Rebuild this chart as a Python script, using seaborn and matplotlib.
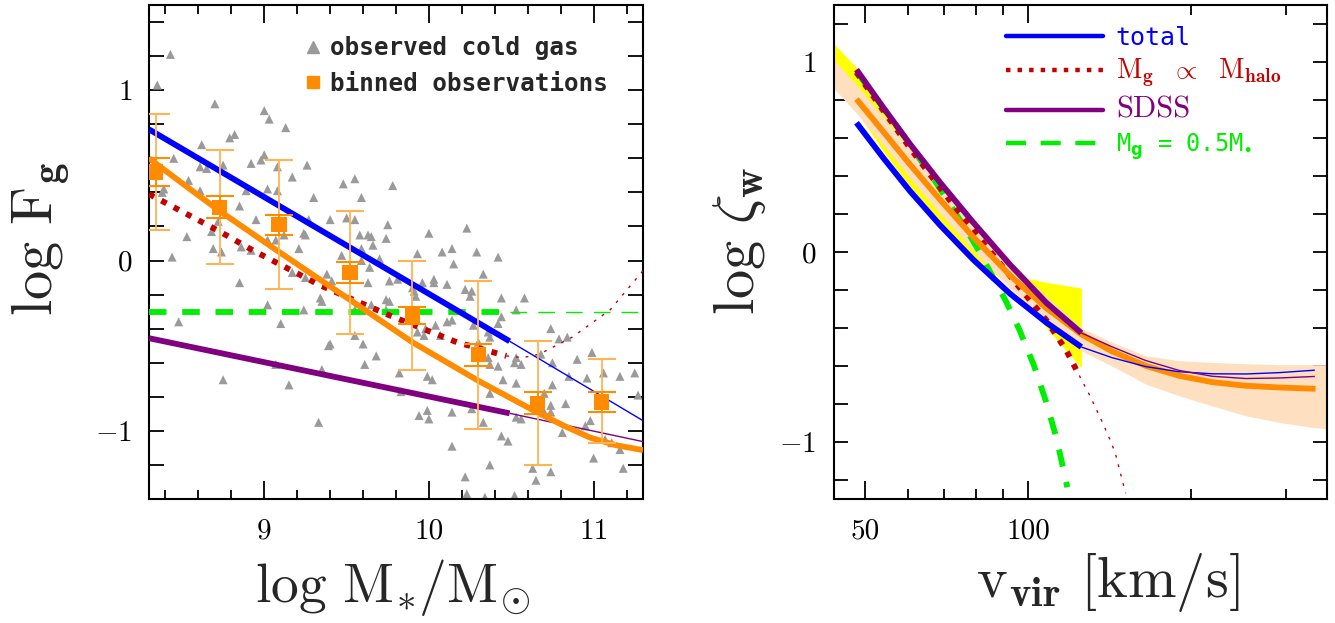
import numpy as np
import pandas as pd
import matplotlib
matplotlib.use("Agg")
import matplotlib.pyplot as plt
import seaborn as sns
from matplotlib.lines import Line2D
from matplotlib.ticker import FixedLocator, MultipleLocator, NullFormatter

# ---------------- left panel data ----------------
obs_logm = [8.43, 8.35, 8.70, 9.00, 9.03, 9.13, 8.82, 8.79, 8.62, 8.45, 8.75, 8.92, 8.61, 8.65,
            9.26, 8.98, 9.00, 9.17, 8.54, 8.38, 8.61, 9.02, 9.08, 9.08, 8.89, 9.48, 9.55, 9.78,
            9.30, 9.59, 8.85, 8.72, 8.95, 9.12, 9.40, 9.50, 9.55, 9.75, 9.27, 9.24, 9.25, 9.58,
            9.63, 9.65, 9.66, 9.74, 10.00, 10.23, 10.14, 10.08, 10.29, 9.93, 9.21, 8.68, 8.53,
            8.69, 8.74, 9.02, 9.07, 8.92, 8.86, 8.44, 10.42, 9.47, 9.59, 9.70, 8.39,
            10.15, 9.64, 9.59, 9.63, 9.76, 9.81, 10.03, 10.03, 10.11, 9.96, 9.91, 9.92, 9.90,
            8.85, 9.17, 9.25, 9.41, 9.38, 9.02, 9.34, 9.35, 9.74, 9.76, 9.65, 9.74, 8.48, 9.10,
            9.24, 9.55, 10.22, 10.26, 10.25, 10.44, 10.58, 10.33, 10.53, 10.44, 10.14, 10.11,
            9.92, 10.04, 9.98, 9.93, 10.42, 10.27, 10.36, 10.07, 10.30, 10.37, 10.74, 10.79,
            10.84, 10.90, 10.68, 10.75, 10.99, 10.85, 10.96, 11.06, 10.75, 11.16, 11.25, 11.27,
            10.56, 10.53, 10.52, 10.53, 10.45, 10.36, 10.42, 10.37, 9.40, 9.39, 9.55, 9.60,
            9.68, 9.61, 9.35, 9.15, 8.75, 9.07, 9.82, 9.83, 9.99, 10.02, 9.97, 9.99, 10.00,
            9.94, 10.14, 10.26, 10.33, 10.37, 10.53, 10.56, 10.69, 10.70, 10.74, 10.74, 10.81,
            10.83, 10.95, 10.98, 11.00, 11.16, 11.11, 11.07, 11.18, 10.44, 10.48, 10.14, 10.37,
            10.22, 10.63, 10.65, 10.74, 9.33, 10.23, 10.34, 10.52]
obs_logf = [1.21, 1.03, 0.92, 0.88, 0.83, 0.78, 0.74, 0.72, 0.68, 0.60, 0.56, 0.57, 0.55, 0.54,
            0.56, 0.59, 0.62, 0.49, 0.47, 0.40, 0.41, 0.42, 0.41, 0.55, 0.41, 0.45, 0.48, 0.44,
            0.37, 0.37, 0.32, 0.23, 0.24, 0.15, 0.24, 0.25, 0.24, 0.21, 0.24, 0.16, 0.15, 0.15,
            0.15, 0.14, 0.09, 0.13, 0.16, 0.19, 0.07, 0.05, 0.05, 0.04, 0.07, 0.17, 0.14,
            0.07, 0.05, 0.12, 0.12, 0.06, 0.08, 0.02, 0.02, 0.03, 0.07, 0.01, 0.42,
            -0.02, -0.04, 0.00, -0.13, -0.12, -0.11, -0.11, -0.13, -0.14, -0.13, -0.18, -0.21, -0.16,
            -0.13, -0.07, -0.10, -0.12, -0.08, -0.26, -0.22, -0.24, -0.23, -0.24, -0.26, -0.29, -0.36, -0.37,
            -0.29, -0.29, -0.17, -0.18, -0.21, -0.22, -0.22, -0.08, -0.29, -0.33, -0.35, -0.36,
            -0.34, -0.38, -0.40, -0.42, -0.37, -0.38, -0.42, -0.44, -0.48, -0.45, -0.40, -0.46,
            -0.45, -0.58, -0.55, -0.60, -0.54, -0.68, -0.69, -0.66, -0.73, -0.68, -0.66, -0.79,
            -0.61, -0.57, -0.60, -0.72, -0.70, -0.57, -0.62, -0.61, -0.49, -0.50, -0.44, -0.49,
            -0.56, -0.61, -0.64, -0.73, -0.70, -0.61, -0.66, -0.77, -0.68, -0.70, -0.44, -0.88, -0.93,
            -0.91, -0.89, -0.87, -0.95, -0.78, -0.92, -0.93, -0.87, -0.78, -0.85, -0.89, -1.01,
            -0.84, -0.97, -0.94, -1.16, -1.11, -1.07, -1.05, -1.22, -1.03, -1.06, -1.09, -1.20,
            -1.27, -1.22, -1.29, -1.24, -0.95, -1.37, -1.39, -1.38]

bin_logm = [8.34, 8.73, 9.09, 9.52, 9.90, 10.30, 10.66, 11.05]
bin_logf = [0.52, 0.31, 0.21, -0.07, -0.32, -0.55, -0.84, -0.83]
bin_outer_lo = [0.18, -0.02, -0.17, -0.43, -0.64, -0.99, -1.20, -1.07]
bin_outer_hi = [0.86, 0.65, 0.59, 0.29, 0.00, -0.12, -0.47, -0.58]
bin_inner_lo = [0.44, 0.25, 0.15, -0.13, -0.37, -0.62, -0.90, -0.89]
bin_inner_hi = [0.60, 0.38, 0.27, -0.01, -0.27, -0.49, -0.77, -0.77]

blue_m_thick, blue_f_thick = [8.30, 10.49], [0.77, -0.474]
blue_m_thin, blue_f_thin = [10.49, 11.30], [-0.474, -0.94]
purple_m_thick, purple_f_thick = [8.30, 10.49], [-0.456, -0.897]
purple_m_thin, purple_f_thin = [10.49, 11.30], [-0.897, -1.063]
orange_m = [8.30, 8.52, 8.73, 9.06, 9.51, 9.90, 10.30, 10.66, 10.82, 10.98, 11.14, 11.30]
orange_f = [0.60, 0.44, 0.29, 0.07, -0.224, -0.48, -0.706, -0.893, -0.97, -1.04, -1.085, -1.113]
red_m_thick = [8.30, 8.73, 8.93, 9.34, 9.78, 10.17, 10.47]
red_f_thick = [0.39, 0.17, 0.06, -0.146, -0.33, -0.48, -0.56]
red_m_thin = [10.47, 10.57, 10.67, 10.87, 11.10, 11.30]
red_f_thin = [-0.56, -0.57, -0.55, -0.45, -0.29, -0.06]
green_m_thick, green_f_thick = [8.30, 10.49], [-0.30, -0.30]
green_m_thin, green_f_thin = [10.49, 11.30], [-0.30, -0.30]

left_xticks = [9, 10, 11]
left_xticklabels = ["9", "10", "11"]
yticks = [-1, 0, 1]
yticklabels = [r"$-1$", r"$0$", r"$1$"]

# ---------------- right panel data ----------------
v_thick = [48.2, 54.0, 60.5, 68.7, 79.2, 92.6, 108.2, 125.5]
blue_z_thick = [0.680, 0.496, 0.321, 0.143, -0.040, -0.219, -0.372, -0.500]
purple_z_thick = [0.960, 0.761, 0.569, 0.368, 0.156, -0.066, -0.268, -0.426]
v_thin = [125.5, 143, 165, 190, 219, 253, 291, 339]
blue_z_thin = [-0.500, -0.556, -0.603, -0.630, -0.641, -0.642, -0.635, -0.622]
purple_z_thin = [-0.426, -0.499, -0.571, -0.623, -0.654, -0.666, -0.663, -0.655]
orange_v = [48.2, 54.0, 60.5, 68.7, 79.2, 92.6, 108.2, 125.5, 143, 165, 190, 219, 253, 291, 340]
orange_z = [0.805, 0.634, 0.461, 0.277, 0.079, -0.122, -0.296, -0.433, -0.523, -0.599,
            -0.651, -0.685, -0.704, -0.713, -0.720]
red_v_thick = [48.2, 54.0, 60.5, 68.7, 79.2, 92.6, 108.2, 117.8, 124.4]
red_z_thick = [0.945, 0.745, 0.548, 0.340, 0.115, -0.125, -0.360, -0.520, -0.650]
red_v_thin = [124.4, 129.8, 135.4, 140.2, 144.9, 151.5]
red_z_thin = [-0.650, -0.750, -0.860, -0.955, -1.055, -1.270]
green_v = [48.2, 58.8, 67.2, 77.0, 81.2, 91.0, 96.5, 102.5, 108.0, 113.0, 118.2]
green_z = [0.950, 0.615, 0.377, 0.115, 0.004, -0.258, -0.412, -0.595, -0.788, -0.984, -1.238]
peach_v = [43.8, 48.2, 54, 60.5, 68.7, 79.2, 92.6, 108.2, 125.5, 143, 165, 190, 219, 253, 291, 340, 357]
peach_hi = [1.01, 0.88, 0.71, 0.54, 0.35, 0.155, -0.055, -0.235, -0.400, -0.475, -0.546, -0.572,
            -0.581, -0.588, -0.593, -0.593, -0.593]
peach_lo = [0.86, 0.73, 0.565, 0.39, 0.205, 0.01, -0.19, -0.36, -0.52, -0.60, -0.695, -0.756,
            -0.81, -0.862, -0.897, -0.925, -0.93]
yellow_v = [43.8, 48.2, 54, 60.5, 68.7, 79.2, 92.6, 96.5, 108.2, 125.5]
yellow_hi = [1.095, 0.97, 0.77, 0.58, 0.38, 0.17, -0.05, -0.13, -0.16, -0.19]
yellow_lo = [0.90, 0.74, 0.53, 0.345, 0.165, -0.02, -0.18, -0.235, -0.40, -0.61]

right_major = [50, 100]
right_major_labels = ["50", "100"]
right_minor = [60, 70, 80, 90, 200, 300]

# ---------------- style ----------------
sns.set_theme(style="ticks")
plt.rcParams["font.family"] = ["cmr10", "DejaVu Serif"]
plt.rcParams["mathtext.fontset"] = "cm"
plt.rcParams["axes.formatter.use_mathtext"] = True
plt.rcParams["axes.unicode_minus"] = False
plt.rcParams["axes.linewidth"] = 1.5
plt.rcParams["axes.edgecolor"] = "black"

BLUE, ORANGE, PURPLE = "#0000FF", "#FF8C00", "#800080"
RED, GREEN, GRAY = "#C40000", "#00EE00", "#9A9A9A"
PEACH, YELLOW, LIGHTOR = "#FEE0C0", "#FFFF00", "#FFB454"

fig = plt.figure(figsize=(13.35, 6.23), dpi=100)
axL = fig.add_axes([149 / 1335, 124 / 623, 494 / 1335, 494 / 623])
axR = fig.add_axes([834 / 1335, 124 / 623, 493 / 1335, 494 / 623])

THICK, THIN = 4.2, 1.0
dot_thick = (0, (1.0, 1.4))
dash_thick = (0, (3.0, 2.7))


def line(ax, x, y, color, lw, ls="-", z=3):
    sns.lineplot(x=x, y=y, ax=ax, color=color, lw=lw, linestyle=ls, sort=False,
                 errorbar=None, zorder=z, solid_capstyle="butt", dash_capstyle="butt")


# ---- left panel ----
sns.scatterplot(x=obs_logm, y=obs_logf, ax=axL, marker="^", s=42, color=GRAY,
                edgecolor="none", linewidth=0, zorder=2)
line(axL, green_m_thick, green_f_thick, GREEN, THICK, dash_thick)
line(axL, green_m_thin, green_f_thin, GREEN, THIN, (0, (12, 8)))
line(axL, purple_m_thick, purple_f_thick, PURPLE, THICK)
line(axL, purple_m_thin, purple_f_thin, PURPLE, THIN)
line(axL, red_m_thick, red_f_thick, RED, THICK, dot_thick)
line(axL, red_m_thin, red_f_thin, RED, THIN, (0, (2, 5)))
line(axL, orange_m, orange_f, ORANGE, THICK)
line(axL, blue_m_thick, blue_f_thick, BLUE, THICK)
line(axL, blue_m_thin, blue_f_thin, BLUE, THIN)

bm = np.array(bin_logm)
bf = np.array(bin_logf)
axL.errorbar(bm, bf, yerr=[bf - np.array(bin_outer_lo), np.array(bin_outer_hi) - bf],
             fmt="none", ecolor=LIGHTOR, elinewidth=1.3, capsize=10, capthick=1.5, zorder=4)
axL.errorbar(bm, bf, yerr=[bf - np.array(bin_inner_lo), np.array(bin_inner_hi) - bf],
             fmt="none", ecolor=ORANGE, elinewidth=1.3, capsize=10, capthick=1.5, zorder=4)
sns.scatterplot(x=bin_logm, y=bin_logf, ax=axL, marker="s", s=120, color=ORANGE,
                edgecolor="none", linewidth=0, zorder=5)

axL.set_xlim(8.3, 11.3)
axL.set_ylim(-1.4, 1.5)
axL.set_xticks(left_xticks, left_xticklabels)
axL.xaxis.set_minor_locator(MultipleLocator(0.2))
axL.set_yticks(yticks, yticklabels)
axL.yaxis.set_minor_locator(MultipleLocator(0.2))
axL.tick_params(which="both", direction="in", top=True, right=True, width=1.3,
                labelsize=21, colors="black")
axL.tick_params(axis="x", which="major", length=13, pad=14)
axL.tick_params(axis="x", which="minor", length=6.5)
axL.tick_params(axis="y", which="both", length=11, pad=12)
axL.set_xlabel(r"$\mathrm{log\ M_{\!*}\!/M_{\!\odot}}$", fontsize=40)
axL.xaxis.set_label_coords(0.494, -0.118)
axL.set_ylabel(r"$\mathrm{log\ F}_{\mathbf{g}}$", fontsize=42)
axL.yaxis.set_label_coords(-0.156, 0.527)

hL = [Line2D([], [], marker="^", ls="none", color=GRAY, ms=8.5),
      Line2D([], [], marker="s", ls="none", color=ORANGE, ms=9)]
legL = axL.legend(hL, ["observed cold gas", "binned observations"], loc="upper left",
                  bbox_to_anchor=(0.313, 0.937), frameon=False, handlelength=0.8,
                  handletextpad=0.3, labelspacing=0.48, borderpad=0, borderaxespad=0,
                  prop={"family": "DejaVu Sans Mono", "weight": "bold", "size": 17.5})

# ---- right panel ----
axR.set_xscale("log")
axR.fill_between(yellow_v, yellow_lo, yellow_hi, color=YELLOW, lw=0, zorder=1)
axR.fill_between(peach_v, peach_lo, peach_hi, color=PEACH, lw=0, zorder=1.5)
line(axR, green_v, green_z, GREEN, THICK, dash_thick)
line(axR, red_v_thick, red_z_thick, RED, THICK, dot_thick)
line(axR, red_v_thin, red_z_thin, RED, THIN, (0, (2, 5)))
line(axR, orange_v, orange_z, ORANGE, THICK)
line(axR, v_thin, blue_z_thin, BLUE, THIN)
line(axR, v_thin, purple_z_thin, PURPLE, THIN)
line(axR, v_thick, blue_z_thick, BLUE, THICK)
line(axR, v_thick, purple_z_thick, PURPLE, THICK)

axR.set_xlim(43.8, 357)
axR.set_ylim(-1.3, 1.3)
axR.xaxis.set_major_locator(FixedLocator(right_major))
axR.set_xticklabels(right_major_labels)
axR.xaxis.set_minor_locator(FixedLocator(right_minor))
axR.xaxis.set_minor_formatter(NullFormatter())
axR.set_yticks(yticks, yticklabels)
axR.yaxis.set_minor_locator(MultipleLocator(0.2))
axR.tick_params(which="both", direction="in", top=True, right=True, width=1.3,
                labelsize=21, colors="black")
axR.tick_params(axis="x", which="major", length=13, pad=14)
axR.tick_params(axis="x", which="minor", length=7)
axR.tick_params(axis="y", which="both", length=10, pad=13)
axR.set_xlabel(r"$\mathrm{v}_{\mathbf{vir}}\ \mathrm{[km/s]}$", fontsize=42)
axR.xaxis.set_label_coords(0.556, -0.105)
axR.set_ylabel(r"$\mathrm{log}\ \zeta_{\mathbf{w}}$", fontsize=42)
axR.yaxis.set_label_coords(-0.134, 0.522)

hR = [Line2D([], [], color=BLUE, lw=3.2),
      Line2D([], [], color=RED, lw=3.2, ls=(0, (1.0, 1.6))),
      Line2D([], [], color=PURPLE, lw=3.2),
      Line2D([], [], color=GREEN, lw=3.2, ls=(0, (4.5, 3.3)))]
labR = ["total", r"$\mathrm{M}_{\mathbf{g}}\ \ \propto\ \ \mathrm{M}_{\mathbf{halo}}$", "SDSS",
        r"M$_{\mathbf{g}}$ = 0.5M$_{\bullet}$"]
legR = axR.legend(hR, labR, loc="upper left", bbox_to_anchor=(0.349, 0.958), frameon=False,
                  handlelength=4.1, handletextpad=0.55, labelspacing=0.30, borderpad=0,
                  borderaxespad=0, prop={"size": 17})
txt = legR.get_texts()
txt[0].set_color(BLUE); txt[0].set_fontfamily("DejaVu Sans Mono"); txt[0].set_fontsize(18)
txt[1].set_color(RED); txt[1].set_fontsize(20)
txt[2].set_color(PURPLE); txt[2].set_fontsize(22)
txt[3].set_color(GREEN); txt[3].set_fontfamily("DejaVu Sans Mono"); txt[3].set_fontsize(17)
txt[3].set_math_fontfamily("dejavusans")

fig.savefig("out.png", dpi=100)
